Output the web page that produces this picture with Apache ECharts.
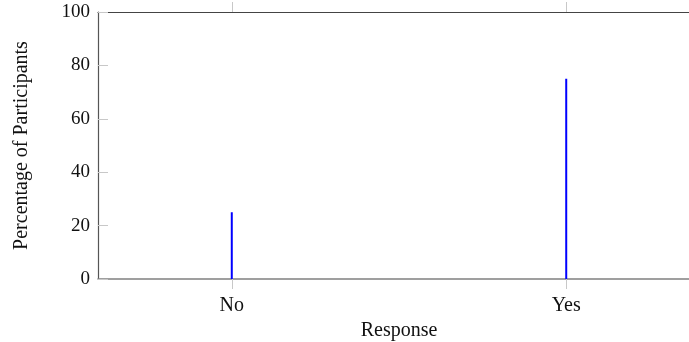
<!DOCTYPE html>
<html>
<head>
<meta charset="utf-8">
<script src="https://cdn.jsdelivr.net/npm/echarts@6/dist/echarts.min.js"></script>
<style>
html,body{margin:0;padding:0;background:#fff;}
#chart{width:689px;height:342px;}
</style>
</head>
<body>
<div id="chart"></div>
<script>
const categories = ['No', 'Yes'];
const values = [25, 75];
const yTicks = [0, 20, 40, 60, 80, 100];

const font = '"Liberation Serif", "Times New Roman", serif';
const catIdx = categories.map((c, i) => i);
const seriesData = values.map((v, i) => [i, v]);

const chart = echarts.init(document.getElementById('chart'), null, {renderer: 'canvas'});
chart.setOption({
  animation: false,
  backgroundColor: '#fff',
  grid: {left: 98, top: 12, width: 602, height: 267, containLabel: false, outerBoundsMode: 'none'},
  xAxis: [{
    type: 'value',
    min: -0.4, max: 1.4,
    position: 'bottom',
    name: 'Response',
    nameLocation: 'middle',
    nameGap: 39,
    nameTextStyle: {fontFamily: font, fontSize: 20, color: '#111'},
    axisLine: {show: true, onZero: false, lineStyle: {color: '#808080', width: 1.5}},
    axisTick: {show: true, inside: false, length: 10, customValues: catIdx, lineStyle: {color: '#c8c8c8', width: 1}},
    axisLabel: {show: true, margin: 17, customValues: catIdx, fontFamily: font, fontSize: 20, color: '#111',
      formatter: v => categories[Math.round(v)] || ''},
    splitLine: {show: false}
  }, {
    type: 'value',
    min: -0.4, max: 1.4,
    position: 'top',
    axisLine: {show: true, onZero: false, lineStyle: {color: '#444', width: 1.2}},
    axisTick: {show: true, inside: false, length: 10, customValues: catIdx, lineStyle: {color: '#c8c8c8', width: 1}},
    axisLabel: {show: false},
    splitLine: {show: false}
  }],
  yAxis: {
    type: 'value',
    min: 0, max: 100, interval: 20,
    name: 'Percentage of Participants',
    nameLocation: 'middle',
    nameGap: 66,
    nameTextStyle: {fontFamily: font, fontSize: 20, color: '#111'},
    axisLine: {show: true, onZero: false, lineStyle: {color: '#555', width: 1.2}},
    axisTick: {show: true, inside: true, length: 10, lineStyle: {color: '#c8c8c8', width: 1}},
    axisLabel: {margin: 8, fontFamily: font, fontSize: 19, color: '#111', padding: [4, 0, 0, 0],
      customValues: yTicks},
    splitLine: {show: false}
  },
  series: [{
    type: 'bar',
    xAxisIndex: 0,
    data: seriesData,
    barWidth: 2,
    itemStyle: {color: '#0000ff'}
  }]
});
</script>
</body>
</html>
